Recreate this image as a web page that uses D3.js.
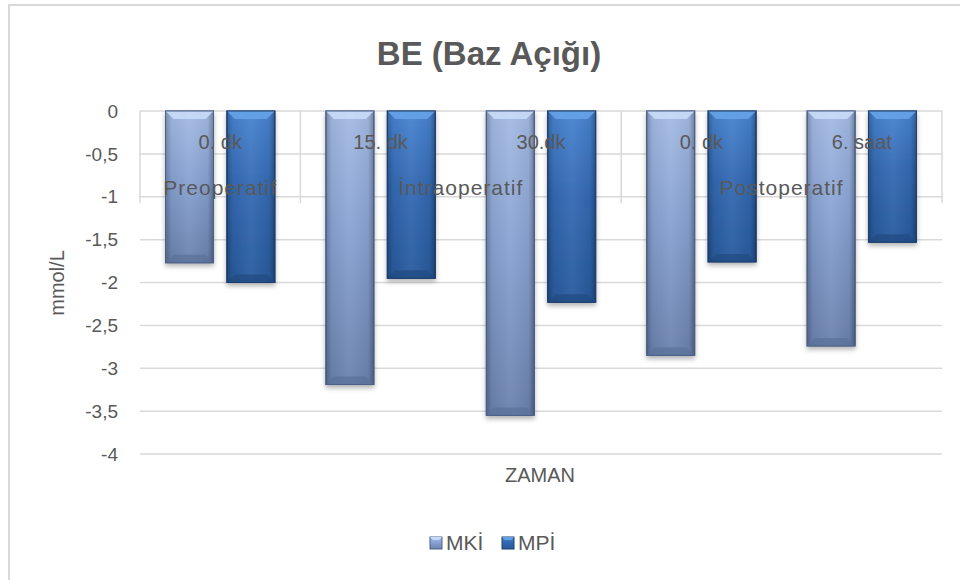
<!DOCTYPE html>
<html>
<head>
<meta charset="utf-8">
<script src="https://cdn.jsdelivr.net/npm/d3@7"></script>
<style>
	body { margin: 0; background: #fff; }
	text { font-family: "Liberation Sans", Arial, sans-serif; fill: #595959; }
</style>
</head>
<body>
<div id="chart"></div>
<script>
// Data
const timeLabels = ["0. dk", "15. dk", "30.dk", "0. dk", "6. saat"];
const phaseLabels = ["Preoperatif", "İntraoperatif", "Postoperatif"];
const phaseOfTime = [0, 1, 1, 2, 2];
const seriesNames = ["MKİ", "MPİ"];
const mkiValues = [-1.77, -3.19, -3.55, -2.85, -2.74];
const mpiValues = [-2.0, -1.95, -2.23, -1.76, -1.53];
const yTicks = [0, -0.5, -1, -1.5, -2, -2.5, -3, -3.5, -4];
const yTickLabels = ["0", "-0,5", "-1", "-1,5", "-2", "-2,5", "-3", "-3,5", "-4"];

const width = 960;
const height = 580;
const plot = { left: 140, right: 942, top: 111, bottom: 454 };

const svg = d3.select("#chart")
	.append("svg")
	.attr("width", width)
	.attr("height", height);

const defs = svg.append("defs");

// Bar styles (bevelled look)
const styles = {
	"MKİ": { light: "#a4bbe4", mid: "#88a2d2", dark: "#6a82ad", edge: "#4d6289", top: "#c6d9f7", bottom: "#5a7099" },
	"MPİ": { light: "#4884d0", mid: "#3369b3", dark: "#285a9c", edge: "#1d3f70", top: "#64a0e6", bottom: "#214a80" }
};

Object.entries(styles).forEach(([name, s], i) => {
	const v = defs.append("linearGradient")
		.attr("id", "vgrad" + i)
		.attr("x1", 0).attr("y1", 0).attr("x2", 0).attr("y2", 1);
	v.append("stop").attr("offset", "0%").attr("stop-color", s.light);
	v.append("stop").attr("offset", "45%").attr("stop-color", s.mid);
	v.append("stop").attr("offset", "100%").attr("stop-color", s.dark);

	const h = defs.append("linearGradient")
		.attr("id", "hgrad" + i)
		.attr("x1", 0).attr("y1", 0).attr("x2", 1).attr("y2", 0);
	h.append("stop").attr("offset", "0%").attr("stop-color", "#000").attr("stop-opacity", 0.25);
	h.append("stop").attr("offset", "12%").attr("stop-color", "#000").attr("stop-opacity", 0.05);
	h.append("stop").attr("offset", "50%").attr("stop-color", "#fff").attr("stop-opacity", 0.05);
	h.append("stop").attr("offset", "88%").attr("stop-color", "#000").attr("stop-opacity", 0.05);
	h.append("stop").attr("offset", "100%").attr("stop-color", "#000").attr("stop-opacity", 0.3);
});

const shadow = defs.append("filter")
	.attr("id", "shadow")
	.attr("x", "-20%").attr("y", "-10%").attr("width", "140%").attr("height", "130%");
shadow.append("feDropShadow")
	.attr("dx", 0).attr("dy", 3)
	.attr("stdDeviation", 2.5)
	.attr("flood-color", "#000")
	.attr("flood-opacity", 0.3);

// Outer chart border
svg.append("rect")
	.attr("x", 9).attr("y", 5)
	.attr("width", 980).attr("height", 620)
	.attr("fill", "#fff")
	.attr("stroke", "#d9d9d9")
	.attr("stroke-width", 2);

// Scales
const x0 = d3.scaleBand()
	.domain(d3.range(timeLabels.length))
	.range([plot.left, plot.right]);

const x1 = d3.scaleBand()
	.domain(seriesNames)
	.range([x0.bandwidth() * 0.159, x0.bandwidth() * 0.841])
	.paddingInner(0.218);

const y = d3.scaleLinear()
	.domain([0, -4])
	.range([plot.top, plot.bottom]);

// Gridlines
svg.append("g")
	.selectAll("line")
	.data(yTicks)
	.join("line")
	.attr("x1", plot.left).attr("x2", plot.right)
	.attr("y1", d => y(d)).attr("y2", d => y(d))
	.attr("stroke", "#d9d9d9")
	.attr("stroke-width", 1.5);

// Y axis labels
svg.append("g")
	.selectAll("text")
	.data(yTicks)
	.join("text")
	.attr("x", 118)
	.attr("y", d => y(d))
	.attr("dy", "0.35em")
	.attr("text-anchor", "end")
	.style("font-size", "19px")
	.text((d, i) => yTickLabels[i]);

// Group separators on the category axis (at zero)
const boundaries = [];
phaseOfTime.forEach((p, i) => {
	if (i === 0 || phaseOfTime[i - 1] !== p) boundaries.push(x0(i));
});
boundaries.push(plot.right);

svg.append("g")
	.selectAll("line")
	.data(boundaries)
	.join("line")
	.attr("x1", d => d).attr("x2", d => d)
	.attr("y1", plot.top).attr("y2", 203)
	.attr("stroke", "#d9d9d9")
	.attr("stroke-width", 1.5);

// Bars
const barData = [];
timeLabels.forEach((t, i) => {
	barData.push({ idx: i, series: "MKİ", value: mkiValues[i] });
	barData.push({ idx: i, series: "MPİ", value: mpiValues[i] });
});

const bars = svg.append("g")
	.selectAll("g")
	.data(barData)
	.join("g")
	.attr("transform", d => `translate(${x0(d.idx) + x1(d.series)},${y(0)})`);

const bw = x1.bandwidth();
const bev = 8;

bars.append("rect")
	.attr("width", bw)
	.attr("height", d => y(d.value) - y(0))
	.attr("fill", d => `url(#vgrad${seriesNames.indexOf(d.series)})`)
	.attr("stroke", d => styles[d.series].edge)
	.attr("stroke-width", 1)
	.attr("filter", "url(#shadow)");

bars.append("rect")
	.attr("width", bw)
	.attr("height", d => y(d.value) - y(0))
	.attr("fill", d => `url(#hgrad${seriesNames.indexOf(d.series)})`);

// top bevel
bars.append("path")
	.attr("d", `M0,0 L${bw},0 L${bw - bev},${bev} L${bev},${bev} Z`)
	.attr("fill", d => styles[d.series].top)
	.attr("opacity", 0.95);

// bottom bevel
bars.append("path")
	.attr("d", d => {
		const h = y(d.value) - y(0);
		return `M0,${h} L${bw},${h} L${bw - bev},${h - bev} L${bev},${h - bev} Z`;
	})
	.attr("fill", d => styles[d.series].bottom)
	.attr("opacity", 0.7);

bars.append("rect")
	.attr("width", bw)
	.attr("height", d => y(d.value) - y(0))
	.attr("fill", "none")
	.attr("stroke", d => styles[d.series].edge)
	.attr("stroke-width", 1);

bars.append("title")
	.text(d => `${d.series}: ${d.value}`);

// Category labels (two levels)
svg.append("g")
	.selectAll("text")
	.data(timeLabels)
	.join("text")
	.attr("x", (d, i) => x0(i) + x0.bandwidth() / 2)
	.attr("y", 149)
	.attr("text-anchor", "middle")
	.style("font-size", "20px")
	.text(d => d);

svg.append("g")
	.selectAll("text")
	.data(phaseLabels)
	.join("text")
	.attr("x", (d, p) => {
		const idx = d3.range(timeLabels.length).filter(i => phaseOfTime[i] === p);
		return (x0(idx[0]) + x0(idx[idx.length - 1]) + x0.bandwidth()) / 2;
	})
	.attr("y", 195)
	.attr("text-anchor", "middle")
	.style("font-size", "21px")
	.style("letter-spacing", "1px")
	.text(d => d);

// Title
svg.append("text")
	.attr("x", 489)
	.attr("y", 65)
	.attr("text-anchor", "middle")
	.style("font-size", "33px")
	.style("font-weight", "bold")
	.text("BE (Baz Açığı)");

// Axis titles
svg.append("text")
	.attr("transform", "translate(64,283) rotate(-90)")
	.attr("text-anchor", "middle")
	.style("font-size", "20px")
	.text("mmol/L");

svg.append("text")
	.attr("x", 540)
	.attr("y", 482)
	.attr("text-anchor", "middle")
	.style("font-size", "20px")
	.text("ZAMAN");

// Legend
const legend = svg.append("g")
	.attr("transform", "translate(430,537)");

const legendItems = legend.selectAll("g")
	.data(seriesNames)
	.join("g")
	.attr("transform", (d, i) => `translate(${i * 72},0)`);

legendItems.append("rect")
	.attr("width", 12).attr("height", 12)
	.attr("fill", (d, i) => `url(#vgrad${i})`)
	.attr("stroke", d => styles[d].edge)
	.attr("stroke-width", 1);

legendItems.append("path")
	.attr("d", "M0,0 L12,0 L9,3 L3,3 Z")
	.attr("fill", d => styles[d].top);

legendItems.append("text")
	.attr("x", 16)
	.attr("y", 6)
	.attr("dy", "0.35em")
	.style("font-size", "21px")
	.text(d => d);
</script>
</body>
</html>
